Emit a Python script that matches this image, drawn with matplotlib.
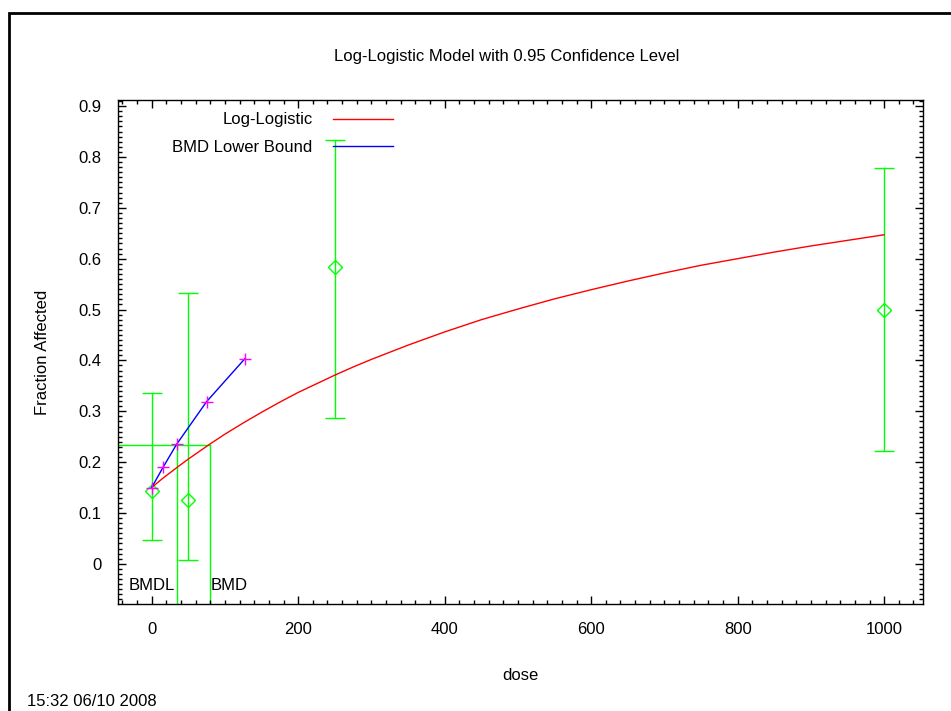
import numpy as np
import matplotlib
matplotlib.use("Agg")
import matplotlib.pyplot as plt
from matplotlib.patches import Rectangle
from matplotlib.ticker import MultipleLocator, FuncFormatter

plt.rcParams['font.family'] = ['Liberation Sans', 'DejaVu Sans']

# observed data with 95% confidence limits
dose = [0, 50, 250, 1000]
frac = [0.143, 0.125, 0.583, 0.500]
ci_lo = [0.047, 0.007, 0.287, 0.222]
ci_hi = [0.335, 0.533, 0.833, 0.778]

# fitted log-logistic curve
curve_dose = [0, 5, 10, 15, 25, 35, 50, 60, 79, 100, 125, 150, 175, 200, 225, 250, 275,
              300, 350, 400, 450, 500, 550, 600, 650, 700, 750, 800, 850, 900, 950, 1000]
curve_frac = [0.150, 0.156, 0.162, 0.168, 0.179, 0.190, 0.206, 0.216, 0.235, 0.255,
              0.277, 0.298, 0.318, 0.337, 0.354, 0.371, 0.387, 0.402, 0.430, 0.456,
              0.480, 0.501, 0.521, 0.539, 0.556, 0.572, 0.587, 0.600, 0.613, 0.625,
              0.636, 0.647]

# BMD lower bound line
lb_dose = [0, 16, 34, 75, 127]
lb_frac = [0.150, 0.191, 0.235, 0.319, 0.403]

bmr_level = 0.234
bmdl = 34
bmd = 79

fs = 12
fig = plt.figure(figsize=(9.51, 7.11), dpi=100)
ax = fig.add_axes([118/951, 1 - 604/711, (923-118)/951, (604-100)/711])

green = '#00ff00'
ax.errorbar(dose, frac, yerr=[np.subtract(frac, ci_lo), np.subtract(ci_hi, frac)],
            fmt='D', mfc='none', mec=green, ms=7, mew=1, ecolor=green, elinewidth=1,
            capsize=7, capthick=1, zorder=2)

ax.plot(curve_dose, curve_frac, color='red', lw=1, label='Log-Logistic', zorder=3)
ax.plot(lb_dose, lb_frac, color='blue', lw=1, label='BMD Lower Bound', zorder=3)
ax.plot(lb_dose, lb_frac, ls='none', marker='+', color='magenta', ms=8, mew=1, zorder=4)

ylo, yhi = -0.079, 0.912
xlo, xhi = -46, 1053
ax.plot([xlo, bmd], [bmr_level, bmr_level], color=green, lw=1, zorder=1)
ax.plot([bmdl, bmdl], [ylo, bmr_level], color=green, lw=1, zorder=1)
ax.plot([bmd, bmd], [ylo, bmr_level], color=green, lw=1, zorder=1)
ax.text(bmdl - 2, -0.043, 'BMDL', ha='right', va='center', fontsize=fs)
ax.text(bmd + 1, -0.043, 'BMD', ha='left', va='center', fontsize=fs)

ax.set_xlim(xlo, xhi)
ax.set_ylim(ylo, yhi)
ax.set_xticks([0, 200, 400, 600, 800, 1000])
ax.set_yticks(np.round(np.arange(0, 0.91, 0.1), 1))
ax.yaxis.set_major_formatter(FuncFormatter(lambda v, p: '0' if abs(v) < 1e-9 else '%.1f' % v))
ax.xaxis.set_minor_locator(MultipleLocator(20))
ax.yaxis.set_minor_locator(MultipleLocator(0.01))
ax.tick_params(which='both', direction='in', top=True, right=True, width=1, labelsize=fs)
ax.tick_params(which='major', length=6)
ax.tick_params(which='minor', length=3)
ax.tick_params(axis='x', pad=13)
ax.tick_params(axis='y', pad=12)
for s in ax.spines.values():
    s.set_linewidth(1)

ax.set_xlabel('dose', fontsize=fs, labelpad=22)
ax.set_ylabel('Fraction Affected', fontsize=fs, labelpad=20)

leg = ax.legend(loc='upper left', bbox_to_anchor=(0.049, 1.005), frameon=False,
                markerfirst=False, fontsize=fs, handlelength=3.6, handletextpad=1.2,
                labelspacing=0.75)
for t in leg.get_texts():
    t.set_ha('right')

fig.text(507/951, 1 - 57/711, 'Log-Logistic Model with 0.95 Confidence Level',
         ha='center', va='center', fontsize=fs)
fig.text(27/951, 1 - 701/711, '15:32 06/10 2008', ha='left', va='center', fontsize=fs)

fig.patches.append(Rectangle((8.5/951, -0.1), 1.2, 1.1 - 13/711, transform=fig.transFigure,
                             fill=False, edgecolor='black', lw=2, clip_on=False))

fig.savefig('out.png', dpi=100)
